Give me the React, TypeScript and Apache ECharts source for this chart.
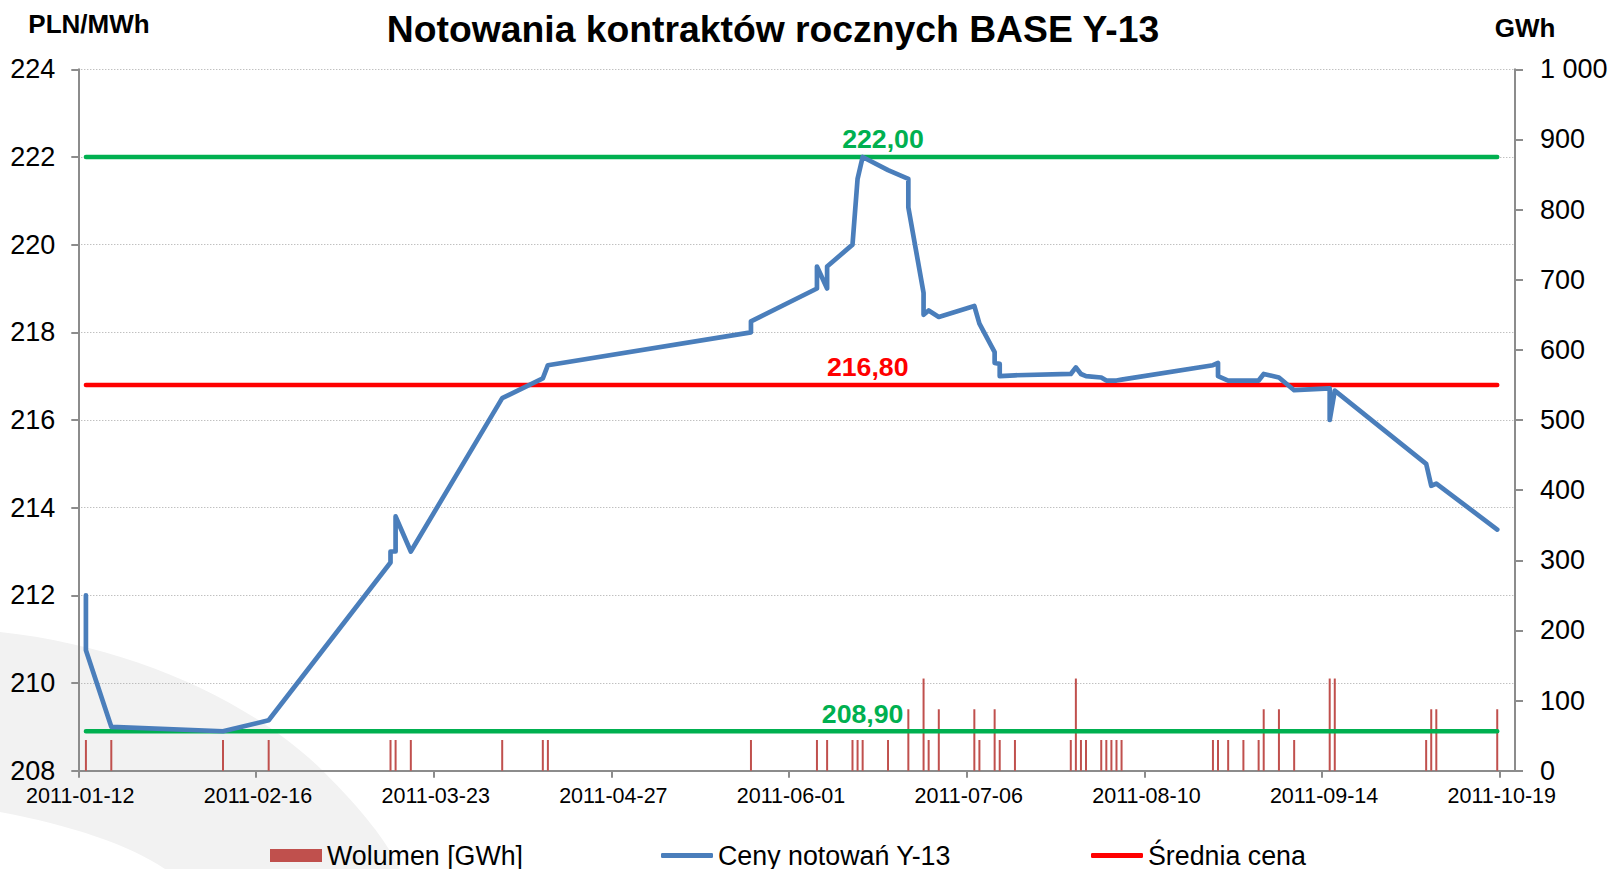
import React, { useEffect, useRef } from "react";
import * as echarts from "echarts";

// ---------- data ----------
const BASE_DATE = "2011-01-12";
const X_TICK_DAYS = 35;
const X_MAX_DAYS = 283;

const priceDates = [
  "2011-01-13", "2011-01-13", "2011-01-18", "2011-02-09", "2011-02-18",
  "2011-03-14", "2011-03-14", "2011-03-15", "2011-03-15", "2011-03-18",
  "2011-04-05", "2011-04-13", "2011-04-14", "2011-05-24", "2011-05-24",
  "2011-06-06", "2011-06-06", "2011-06-08", "2011-06-08", "2011-06-13",
  "2011-06-14", "2011-06-15", "2011-06-20", "2011-06-24", "2011-06-24",
  "2011-06-27", "2011-06-27", "2011-06-28", "2011-06-30", "2011-07-07",
  "2011-07-08", "2011-07-11", "2011-07-11", "2011-07-12", "2011-07-12",
  "2011-07-15", "2011-07-26", "2011-07-27", "2011-07-28", "2011-07-29",
  "2011-08-01", "2011-08-02", "2011-08-03", "2011-08-04", "2011-08-05",
  "2011-08-23", "2011-08-24", "2011-08-24", "2011-08-26", "2011-08-29",
  "2011-09-01", "2011-09-02", "2011-09-05", "2011-09-08", "2011-09-15",
  "2011-09-15", "2011-09-16", "2011-10-04", "2011-10-05", "2011-10-06",
  "2011-10-18",
];
const prices = [
  212.0, 210.75, 209.0, 208.9, 209.15,
  212.75, 213.0, 213.0, 213.8, 213.0,
  216.5, 216.95, 217.25, 218.0, 218.25,
  219.0, 219.5, 219.0, 219.5, 220.0,
  221.5, 222.0, 221.7, 221.5, 220.85,
  218.9, 218.4, 218.5, 218.35, 218.6,
  218.2, 217.55, 217.3, 217.28, 217.0,
  217.02, 217.05, 217.2, 217.05, 217.0,
  216.97, 216.9, 216.9, 216.9, 216.92,
  217.25, 217.3, 217.0, 216.9, 216.9,
  216.9, 217.05, 216.97, 216.68, 216.72,
  216.0, 216.67, 215.0, 214.5, 214.55,
  213.5,
];

const volumeDates = [
  "2011-01-13", "2011-01-18", "2011-02-09", "2011-02-18", "2011-03-14",
  "2011-03-15", "2011-03-18", "2011-04-05", "2011-04-13", "2011-04-14",
  "2011-05-24", "2011-06-06", "2011-06-08", "2011-06-13", "2011-06-14",
  "2011-06-15", "2011-06-20", "2011-06-24", "2011-06-27", "2011-06-28",
  "2011-06-30", "2011-07-07", "2011-07-08", "2011-07-11", "2011-07-12",
  "2011-07-15", "2011-07-26", "2011-07-27", "2011-07-28", "2011-07-29",
  "2011-08-01", "2011-08-02", "2011-08-03", "2011-08-04", "2011-08-05",
  "2011-08-23", "2011-08-24", "2011-08-26", "2011-08-29", "2011-09-01",
  "2011-09-02", "2011-09-05", "2011-09-08", "2011-09-15", "2011-09-16",
  "2011-10-04", "2011-10-05", "2011-10-06", "2011-10-18",
];
const volumes = [
  43.8, 43.8, 43.8, 43.8, 43.8,
  43.8, 43.8, 43.8, 43.8, 43.8,
  43.8, 43.8, 43.8, 43.8, 43.8,
  43.8, 43.8, 87.6, 131.4, 43.8,
  87.6, 87.6, 43.8, 87.6, 43.8,
  43.8, 43.8, 131.4, 43.8, 43.8,
  43.8, 43.8, 43.8, 43.8, 43.8,
  43.8, 43.8, 43.8, 43.8, 43.8,
  87.6, 87.6, 43.8, 131.4, 131.4,
  43.8, 87.6, 87.6, 87.6,
];

const AVG_PRICE = 216.8;
const MAX_PRICE = 222.0;
const MIN_PRICE = 208.9;
const refLineStart = "2011-01-13";
const refLineEnd = "2011-10-18";
const maxLabelDate = "2011-06-19";
const avgLabelDate = "2011-06-16";
const minLabelDate = "2011-06-15";

const LEFT_MIN = 208;
const LEFT_MAX = 224;
const LEFT_STEP = 2;
const RIGHT_MIN = 0;
const RIGHT_MAX = 1000;
const RIGHT_STEP = 100;

const TITLE = "Notowania kontraktów rocznych BASE Y-13";
const LEFT_UNIT = "PLN/MWh";
const RIGHT_UNIT = "GWh";
const SERIES_VOLUME = "Wolumen [GWh]";
const SERIES_PRICE = "Ceny notowań Y-13";
const SERIES_AVG = "Średnia cena";

// ---------- helpers ----------
const DAY = 86400000;
const baseMs = Date.parse(BASE_DATE);
const dayX = (d: string) => Math.round((Date.parse(d) - baseMs) / DAY) + 0.5;
const fmtDay = (v: number) => new Date(baseMs + v * DAY).toISOString().slice(0, 10);
const fmtComma = (v: number) => v.toFixed(2).replace(".", ",");
const fmtThousands = (v: number) => String(v).replace(/\B(?=(\d{3})+(?!\d))/g, " ");

const FONT = '"Liberation Sans", Arial, Helvetica, sans-serif';
const BLUE = "#4A7EBB";
const RED = "#FF0000";
const GREEN = "#00B050";
const BAR = "#C0504D";
const AXIS = "#8C8C8C";

// decorative background swoosh of the slide template
echarts.graphic.registerShape(
  "swoosh",
  echarts.graphic.extendPath(
    "M0,632 C130,646 250,700 322,770 C362,810 386,840 400,869 L165,869 C130,845 70,825 0,812 Z",
    {}
  )
);

function refLine(name: string, value: number, labelDate: string, color: string) {
  return {
    name,
    type: "line",
    yAxisIndex: 0,
    symbol: "circle",
    symbolSize: 0,
    showSymbol: true,
    showAllSymbol: true,
    z: 3,
    color,
    itemStyle: { color },
    lineStyle: { color, width: 4.5, cap: "round" },
    label: { show: false },
    emphasis: { disabled: true },
    data: [
      [dayX(refLineStart), value],
      {
        value: [dayX(labelDate), value],
        label: {
          show: true,
          position: "top",
          distance: 4,
          formatter: () => fmtComma(value),
          color,
          fontSize: 26.7,
          fontWeight: "bold",
          fontFamily: FONT,
        },
      },
      [dayX(refLineEnd), value],
    ],
  };
}

function buildOption() {
  const priceData = priceDates.map((d, i) => [dayX(d), prices[i]]);
  const volumeData = volumeDates.map((d, i) => [dayX(d), volumes[i]]);

  const legendCommon = {
    top: 842,
    padding: 0,
    itemWidth: 52,
    textStyle: { fontSize: 26.8, color: "#000", fontFamily: FONT },
    selectedMode: false,
  };

  return {
    animation: false,
    backgroundColor: "#ffffff",
    textStyle: { fontFamily: FONT },
    grid: { left: 78.3, top: 69.3, width: 1436.7, height: 701.4, containLabel: false },
    graphic: [
      {
        type: "swoosh",
        x: 0,
        y: 0,
        z: -100,
        silent: true,
        style: { fill: "#F2F2F2" },
      },
      {
        type: "text",
        x: 773,
        y: 29,
        style: {
          text: TITLE,
          fontSize: 37.3,
          fontWeight: "bold",
          fontFamily: FONT,
          fill: "#000",
          align: "center",
          verticalAlign: "middle",
        },
      },
      {
        type: "text",
        x: 89,
        y: 24,
        style: {
          text: LEFT_UNIT,
          fontSize: 26,
          fontWeight: "bold",
          fontFamily: FONT,
          fill: "#000",
          align: "center",
          verticalAlign: "middle",
        },
      },
      {
        type: "text",
        x: 1525,
        y: 28,
        style: {
          text: RIGHT_UNIT,
          fontSize: 26,
          fontWeight: "bold",
          fontFamily: FONT,
          fill: "#000",
          align: "center",
          verticalAlign: "middle",
        },
      },
    ],
    legend: [
      { ...legendCommon, left: 270, itemHeight: 13, data: [{ name: SERIES_VOLUME, icon: "rect" }] },
      { ...legendCommon, left: 661, itemHeight: 5, data: [{ name: SERIES_PRICE, icon: "roundRect" }] },
      { ...legendCommon, left: 1091, itemHeight: 5, data: [{ name: SERIES_AVG, icon: "roundRect" }] },
    ],
    xAxis: {
      type: "value",
      min: 0,
      max: X_MAX_DAYS,
      interval: X_TICK_DAYS,
      axisLine: { show: true, onZero: false, lineStyle: { color: AXIS, width: 2 } },
      axisTick: { show: true, length: 7, lineStyle: { color: AXIS, width: 2 } },
      splitLine: { show: false },
      axisLabel: {
        margin: 14,
        fontSize: 21.5,
        color: "#000",
        fontFamily: FONT,
        padding: [0, 0, 0, 4],
        showMaxLabel: false,
        formatter: (v: number) => (v % X_TICK_DAYS === 0 ? fmtDay(v) : ""),
      },
    },
    yAxis: [
      {
        type: "value",
        min: LEFT_MIN,
        max: LEFT_MAX,
        interval: LEFT_STEP,
        position: "left",
        axisLine: { show: true, lineStyle: { color: AXIS, width: 2 } },
        axisTick: { show: true, length: 7, lineStyle: { color: AXIS, width: 2 } },
        splitLine: { show: true, lineStyle: { color: "#A6A6A6", width: 1, type: [1, 2] } },
        axisLabel: { margin: 23, fontSize: 27, color: "#000", fontFamily: FONT },
      },
      {
        type: "value",
        min: RIGHT_MIN,
        max: RIGHT_MAX,
        interval: RIGHT_STEP,
        position: "right",
        axisLine: { show: true, lineStyle: { color: AXIS, width: 2 } },
        axisTick: { show: true, length: 8, lineStyle: { color: AXIS, width: 2 } },
        splitLine: { show: false },
        axisLabel: {
          margin: 25,
          fontSize: 27,
          color: "#000",
          fontFamily: FONT,
          formatter: (v: number) => fmtThousands(v),
        },
      },
    ],
    series: [
      {
        name: SERIES_VOLUME,
        type: "bar",
        yAxisIndex: 1,
        barWidth: 2,
        z: 1,
        color: BAR,
        itemStyle: { color: BAR },
        data: volumeData,
      },
      {
        name: SERIES_PRICE,
        type: "line",
        yAxisIndex: 0,
        symbol: "none",
        z: 4,
        color: BLUE,
        lineStyle: { color: BLUE, width: 4.7, cap: "round", join: "round" },
        data: priceData,
      },
      refLine(SERIES_AVG, AVG_PRICE, avgLabelDate, RED),
      refLine("Maksimum", MAX_PRICE, maxLabelDate, GREEN),
      refLine("Minimum", MIN_PRICE, minLabelDate, GREEN),
    ],
  };
}

export default function App() {
  const ref = useRef<HTMLDivElement>(null);
  useEffect(() => {
    document.body.style.margin = "0";
    document.body.style.overflow = "hidden";
    const chart = echarts.init(ref.current as HTMLDivElement, null, { renderer: "svg" });
    chart.setOption(buildOption() as any);
    return () => chart.dispose();
  }, []);
  return <div ref={ref} style={{ width: 1612, height: 869 }} />;
}
